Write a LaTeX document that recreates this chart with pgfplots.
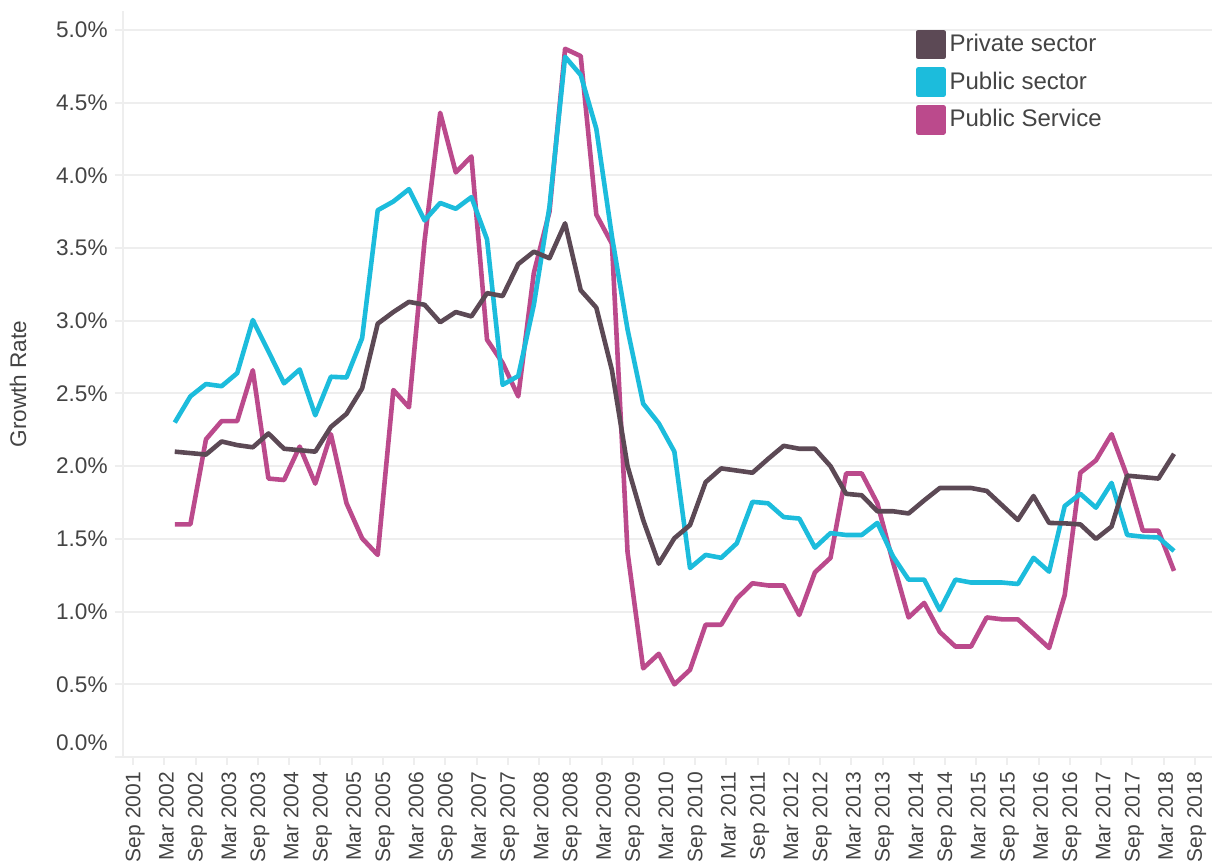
\documentclass[border=0pt]{standalone}
\usepackage{fontspec}
\setmainfont{Liberation Sans}
\usepackage{pgfplots}
\usepackage{pgfplotstable}
\pgfplotsset{compat=1.18}
\definecolor{priv}{HTML}{5C4955}
\definecolor{pub}{HTML}{1CBCDC}
\definecolor{serv}{HTML}{BB4A8C}
\definecolor{gridc}{HTML}{EEEEEE}
\definecolor{txt}{HTML}{444444}

\pgfplotstableread{
m priv pub serv
8 2.10 2.30 1.60
11 2.09 2.48 1.60
14 2.08 2.565 2.185
17 2.17 2.55 2.31
20 2.145 2.64 2.31
23 2.13 3.005 2.66
26 2.225 2.79 1.915
29 2.12 2.57 1.905
32 2.11 2.665 2.135
35 2.10 2.35 1.88
38 2.27 2.615 2.22
41 2.36 2.61 1.745
44 2.535 2.88 1.504
47 2.98 3.76 1.39
50 3.06 3.82 2.524
53 3.13 3.905 2.405
56 3.11 3.69 3.55
59 2.99 3.81 4.43
62 3.06 3.77 4.02
65 3.03 3.85 4.13
68 3.19 3.56 2.87
71 3.17 2.56 2.71
74 3.39 2.62 2.48
77 3.475 3.11 3.33
80 3.43 3.785 3.75
83 3.67 4.815 4.87
86 3.21 4.69 4.82
89 3.09 4.32 3.73
92 2.66 3.58 3.53
95 2.00 2.94 1.41
98 1.63 2.43 0.61
101 1.33 2.295 0.71
104 1.505 2.10 0.50
107 1.595 1.30 0.60
110 1.89 1.39 0.91
113 1.985 1.37 0.91
116 1.97 1.47 1.09
119 1.955 1.755 1.195
122 2.05 1.745 1.18
125 2.14 1.65 1.18
128 2.12 1.64 0.977
131 2.12 1.44 1.27
134 2.00 1.54 1.37
137 1.81 1.527 1.95
140 1.80 1.527 1.95
143 1.69 1.61 1.745
146 1.69 1.38 1.34
149 1.675 1.22 0.96
152 1.765 1.22 1.06
155 1.85 1.01 0.86
158 1.85 1.22 0.76
161 1.85 1.20 0.76
164 1.83 1.20 0.96
167 1.73 1.20 0.947
170 1.63 1.19 0.947
173 1.795 1.37 0.85
176 1.61 1.275 0.75
179 1.607 1.726 1.114
182 1.60 1.81 1.955
185 1.50 1.715 2.04
188 1.585 1.885 2.22
191 1.935 1.527 1.93
194 1.925 1.515 1.557
197 1.915 1.51 1.557
200 2.085 1.417 1.28
}\datatable

\begin{document}
\begin{tikzpicture}
\begin{axis}[
  scale only axis,
  width=544.6pt, height=373pt,
  xmin=-2, xmax=207.3, ymin=0, ymax=5.13,
  axis lines*=left,
  axis line style={draw=gridc, line width=1pt},
  tick align=outside,
  major tick length=4pt,
  tick style={draw=gridc, line width=1pt},
  xtick={0,6,...,204},
  xticklabels={Sep 2001,Mar 2002,Sep 2002,Mar 2003,Sep 2003,Mar 2004,Sep 2004,Mar 2005,Sep 2005,Mar 2006,Sep 2006,Mar 2007,Sep 2007,Mar 2008,Sep 2008,Mar 2009,Sep 2009,Mar 2010,Sep 2010,Mar 2011,Sep 2011,Mar 2012,Sep 2012,Mar 2013,Sep 2013,Mar 2014,Sep 2014,Mar 2015,Sep 2015,Mar 2016,Sep 2016,Mar 2017,Sep 2017,Mar 2018,Sep 2018},
  xticklabel style={rotate=90, anchor=east, font=\fontsize{10.5}{12}\selectfont, text=txt, yshift=-1pt},
  ytick={0.5,1.0,1.5,2.0,2.5,3.0,3.5,4.0,4.5,5.0},
  yticklabels={0.5\%,1.0\%,1.5\%,2.0\%,2.5\%,3.0\%,3.5\%,4.0\%,4.5\%,5.0\%},
  extra y ticks={0},
  extra y tick labels={0.0\%},
  extra y tick style={ymajorgrids=true, yticklabel style={yshift=7pt}},
  yticklabel style={font=\fontsize{11.3}{13}\selectfont, text=txt},
  ymajorgrids,
  grid style={draw=gridc, line width=1pt},
  ylabel={Growth Rate},
  ylabel style={at={(axis description cs:-0.0961,0.5)}, anchor=center, font=\fontsize{11.3}{13}\selectfont, text=txt},
  legend style={at={(rel axis cs:0.7224,0.9807)}, anchor=north west, draw=none, fill=none,
    font=\fontsize{12}{14}\selectfont, text=txt, row sep=4pt},
  legend cell align=left,
  reverse legend,
  legend image code/.code={\fill[#1] (0pt,-6.25pt) rectangle (12.5pt,6.25pt);},
  every axis plot/.append style={line width=2.3pt, line join=round},
]
\coordinate (bl) at (rel axis cs:0,0);
\coordinate (tr) at (rel axis cs:1,1);
\addplot[color=serv] table[x=m, y=serv] {\datatable};
\addlegendentry{Public Service}
\addplot[color=pub] table[x=m, y=pub] {\datatable};
\addlegendentry{Public sector}
\addplot[color=priv] table[x=m, y=priv] {\datatable};
\addlegendentry{Private sector}
\end{axis}
\pgfresetboundingbox
\path ([shift={(-61.35pt,-52pt)}]bl) rectangle ([shift={(1pt,5.5pt)}]tr);
\end{tikzpicture}
\end{document}
